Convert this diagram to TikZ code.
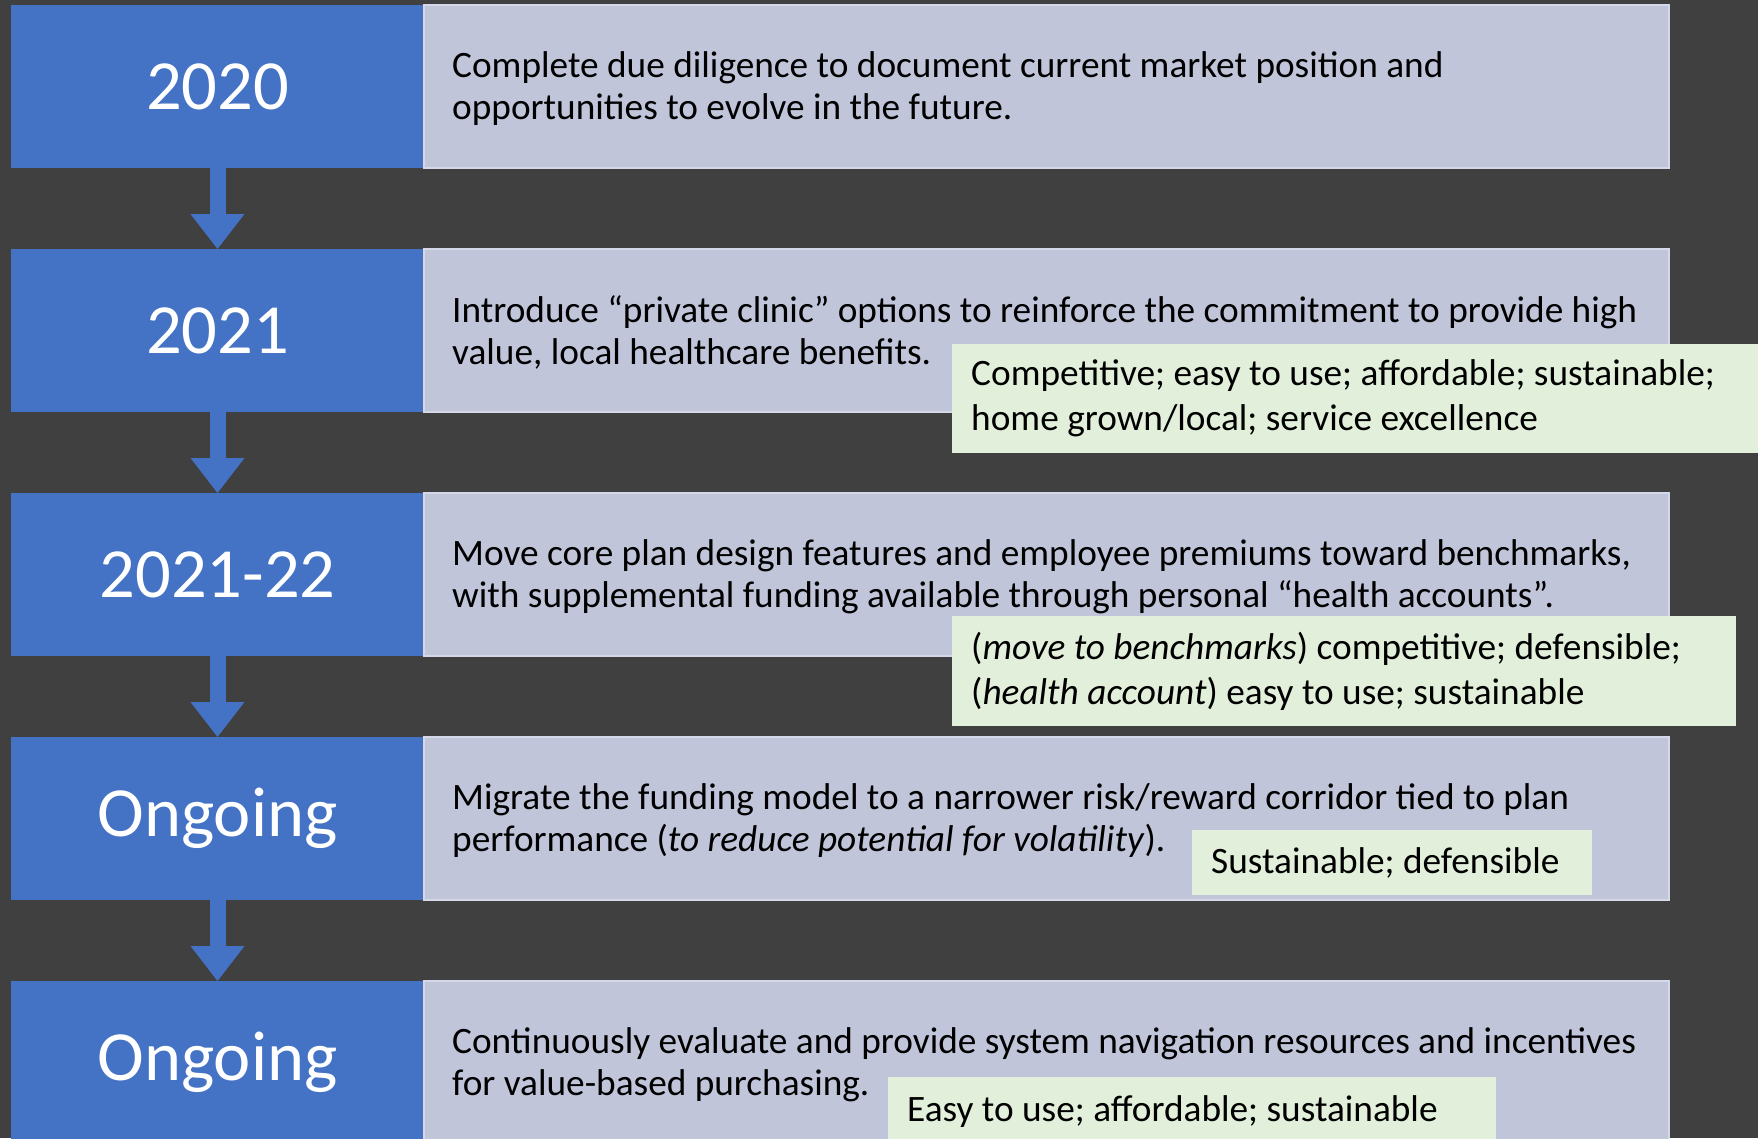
\documentclass[tikz,border=0pt]{standalone}
\usepackage{fontspec}
\setmainfont{Carlito}
\usetikzlibrary{arrows.meta,positioning}
\frenchspacing
\definecolor{pagebg}{RGB}{64,64,64}
\definecolor{yearblue}{RGB}{68,114,196}
\definecolor{actgray}{RGB}{192,197,218}
\definecolor{actedge}{RGB}{212,216,233}
\definecolor{notegreen}{RGB}{226,239,218}
\begin{document}
\begin{tikzpicture}[x=1pt,y=1pt,
  year/.style={fill=yearblue,text=white,anchor=north west,minimum width=413pt,minimum height=163pt,inner sep=0pt,outer sep=0pt,font=\fontsize{70.5}{84}\selectfont},
  act/.style={fill=actgray,draw=actedge,line width=1.5pt,minimum width=1245pt,minimum height=163pt,inner sep=0pt,outer sep=0pt},
  acttext/.style={anchor=west,align=left,inner sep=0pt,yshift=-2pt,font=\fontsize{37.3}{41.5}\selectfont},
  note/.style={fill=notegreen,anchor=north west,align=flush left,inner xsep=19pt,inner ysep=0pt,font=\fontsize{37.3}{45}\selectfont},
  flow/.style={draw=yearblue,line width=16pt,-{Triangle[width=54pt,length=35pt,line width=0pt]}}]
\useasboundingbox (0,0) rectangle (1758,-1138);
\clip (0,0) rectangle (1758,-1138);
\fill[pagebg] (0,0) rectangle (1758,-1138);
\node[year] (yr1) at (11,-5) {2020};
\node[act,right=0pt of yr1] (ac1) {};
\node[acttext,right=28pt of ac1.west] (ac1_t) {Complete due diligence to document current market position and\\opportunities to evolve in the future.};
\node[year] (yr2) at (11,-249) {2021};
\node[act,right=0pt of yr2] (ac2) {};
\node[acttext,right=28pt of ac2.west] (ac2_t) {Introduce “private clinic” options to reinforce the commitment to provide high\\value, local healthcare benefits.};
\node[year] (yr3) at (11,-493) {2021-22};
\node[act,right=0pt of yr3] (ac3) {};
\node[acttext,right=28pt of ac3.west] (ac3_t) {Move core plan design features and employee premiums toward benchmarks,\\with supplemental funding available through personal “health accounts”.};
\node[year] (yr4) at (11,-737) {Ongoing};
\node[act,right=0pt of yr4] (ac4) {};
\node[acttext,right=28pt of ac4.west] (ac4_t) {Migrate the funding model to a narrower risk/reward corridor tied to plan\\performance (\textit{to reduce potential for volatility}).};
\node[year] (yr5) at (11,-981) {Ongoing};
\node[act,right=0pt of yr5] (ac5) {};
\node[acttext,right=28pt of ac5.west] (ac5_t) {Continuously evaluate and provide system navigation resources and incentives\\for value-based purchasing.};
\draw[flow] (yr1.south)--(yr2.north);
\draw[flow] (yr2.south)--(yr3.north);
\draw[flow] (yr3.south)--(yr4.north);
\draw[flow] (yr4.south)--(yr5.north);
\node[note,minimum width=820pt,minimum height=109pt,text width=782pt] (nt2) at (952,-344) {Competitive; easy to use; affordable; sustainable;\\home grown/local; service excellence};
\node[note,minimum width=784pt,minimum height=110pt,text width=746pt] (nt3) at (952,-616) {(\textit{move to benchmarks}) competitive; defensible;\\(\textit{health account}) easy to use; sustainable};
\node[note,minimum width=400pt,minimum height=65pt,text width=362pt] (nt4) at (1192,-830) {Sustainable; defensible};
\node[note,minimum width=608pt,minimum height=68pt,text width=570pt] (nt5) at (888,-1077) {Easy to use; affordable; sustainable};
\end{tikzpicture}
\end{document}
